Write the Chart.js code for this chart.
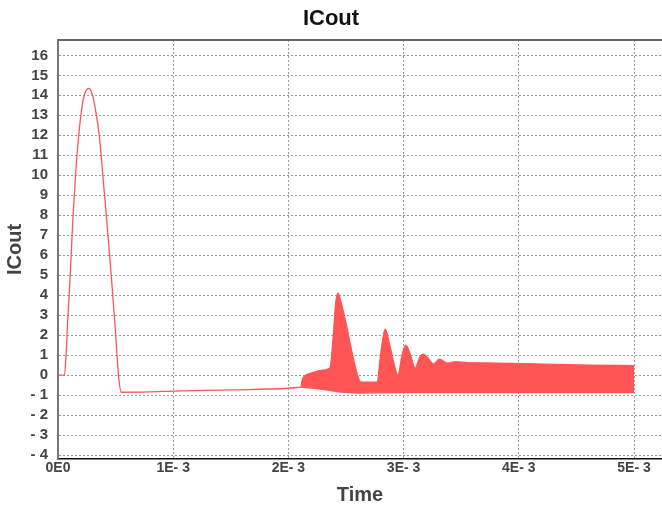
<!DOCTYPE html>
<html>
<head>
<meta charset="utf-8">
<script src="https://cdn.jsdelivr.net/npm/chart.js@4.4.1/dist/chart.umd.min.js"></script>
<style>
  html, body { margin: 0; padding: 0; background: #fff; }
  #wrap { width: 662px; height: 511px; }
</style>
</head>
<body>
<div id="wrap"><canvas id="c"></canvas></div>
<script>
// --- data (time in s, current in A) ---------------------------------------
// single trace: start-up pulse, then the slow negative drift
var traceT = [0, 0.056e-3, 0.07e-3, 0.085e-3, 0.106e-3, 0.13e-3, 0.152e-3,
  0.18e-3, 0.21e-3, 0.24e-3, 0.268e-3, 0.295e-3, 0.325e-3, 0.36e-3, 0.389e-3,
  0.425e-3, 0.462e-3, 0.495e-3, 0.525e-3, 0.55e-3, 0.8e-3, 1.0e-3, 1.5e-3,
  2.0e-3, 2.11e-3];
var traceI = [0, 0, 1.0, 2.8, 5.0, 7.9, 10.0, 12.0, 13.5, 14.2, 14.35, 14.1,
  13.3, 11.9, 10.0, 7.6, 5.0, 2.5, 0, -0.86, -0.84, -0.8, -0.74, -0.66, -0.6];

// switching band: upper and lower envelope of the dense ripple
var upperT = [2.11e-3, 2.12e-3, 2.14e-3, 2.2e-3, 2.3e-3, 2.36e-3, 2.39e-3,
  2.41e-3, 2.43e-3, 2.45e-3, 2.5e-3, 2.55e-3, 2.6e-3, 2.63e-3, 2.77e-3,
  2.8e-3, 2.84e-3, 2.88e-3, 2.92e-3, 2.95e-3, 2.99e-3, 3.02e-3, 3.06e-3,
  3.1e-3, 3.14e-3, 3.17e-3, 3.22e-3, 3.26e-3, 3.31e-3, 3.38e-3, 3.45e-3,
  3.55e-3, 3.8e-3, 4.2e-3, 4.6e-3, 5.0e-3];
var upperI = [-0.6, -0.25, -0.05, 0.1, 0.25, 0.35, 2.0, 3.6, 4.1, 3.8, 2.6,
  1.2, 0.0, -0.35, -0.35, 1.0, 2.3, 1.5, 0.5, 0.0, 1.1, 1.5, 1.0, 0.35, 0.9,
  1.05, 0.8, 0.55, 0.8, 0.6, 0.67, 0.62, 0.6, 0.55, 0.5, 0.47];
var lowerT = [2.11e-3, 2.2e-3, 2.3e-3, 2.45e-3, 2.6e-3, 3.0e-3, 4.0e-3, 5.0e-3];
var lowerI = [-0.6, -0.65, -0.72, -0.85, -0.9, -0.88, -0.88, -0.88];

var xTicks = [0, 1e-3, 2e-3, 3e-3, 4e-3, 5e-3];
var xTickLabels = ["0E0", "1E- 3", "2E- 3", "3E- 3", "4E- 3", "5E- 3"];
var yTicks = [-4, -3, -2, -1, 0, 1, 2, 3, 4, 5, 6, 7, 8, 9, 10, 11, 12, 13, 14, 15, 16];

// --- helpers -----------------------------------------------------------------
function pts(xs, ys) {
  return xs.map(function (x, i) { return { x: x, y: ys[i] }; });
}
var RED = "rgb(255,85,85)";
var INK = "#444";
var FONT = "'Liberation Sans', Arial, sans-serif";

// thin dark frame line along the top of the plot area
var topLine = {
  id: "topLine",
  afterDraw: function (chart) {
    var a = chart.chartArea, ctx = chart.ctx;
    ctx.save();
    ctx.strokeStyle = "#666";
    ctx.lineWidth = 2;
    ctx.beginPath();
    ctx.moveTo(a.left, a.top);
    ctx.lineTo(a.right, a.top);
    ctx.stroke();
    ctx.restore();
  }
};

new Chart(document.getElementById("c"), {
  type: "line",
  data: {
    datasets: [
      { label: "trace", data: pts(traceT, traceI), borderColor: RED,
        borderWidth: 1.3, pointRadius: 0, cubicInterpolationMode: "monotone",
        fill: false },
      { label: "lower", data: pts(lowerT, lowerI), borderColor: RED,
        borderWidth: 1.3, pointRadius: 0, fill: false },
      { label: "upper", data: pts(upperT, upperI), borderColor: RED,
        backgroundColor: RED, borderWidth: 1.3, pointRadius: 0,
        cubicInterpolationMode: "monotone", fill: 1 }
    ]
  },
  options: {
    responsive: true, maintainAspectRatio: false, animation: false,
    layout: { padding: 0 },
    plugins: {
      legend: { display: false },
      tooltip: { enabled: false },
      title: { display: true, text: "ICout", color: "#111",
        font: { family: FONT, size: 22, weight: "bold" },
        padding: { top: 6, bottom: 7.6 } }
    },
    scales: {
      x: {
        type: "linear", min: 0, max: 5.243e-3,
        afterBuildTicks: function (s) {
          s.ticks = xTicks.map(function (v) { return { value: v }; });
        },
        afterFit: function (s) { s.height = 52; },
        ticks: { color: INK, padding: 1, maxRotation: 0, autoSkip: false,
          font: { family: FONT, size: 14, weight: "bold" },
          callback: function (v) {
            var i = xTicks.indexOf(v);
            return i < 0 ? "" : xTickLabels[i];
          } },
        grid: { color: "#999", lineWidth: 1, drawTicks: false },
        border: { color: "#111", width: 1.5, dash: [2, 2], dashOffset: 0 },
        title: { display: true, text: "Time", color: INK,
          font: { family: FONT, size: 20, weight: "bold" },
          padding: { top: 0, bottom: 4 } }
      },
      y: {
        type: "linear", min: -4.2, max: 16.77,
        afterBuildTicks: function (s) {
          s.ticks = yTicks.map(function (v) { return { value: v }; });
        },
        afterFit: function (s) { s.width = 58; },
        ticks: { color: INK, padding: 10, autoSkip: false,
          font: { family: FONT, size: 15, weight: "bold" },
          callback: function (v) { return v < 0 ? "- " + Math.abs(v) : "" + v; } },
        grid: { color: "#999", lineWidth: 1, drawTicks: false },
        border: { color: "#777", width: 2, dash: [2, 2] },
        title: { display: true, text: "ICout", color: INK,
          font: { family: FONT, size: 20, weight: "bold" },
          padding: { top: 3.5, bottom: 0 } }
      }
    }
  },
  plugins: [topLine]
});
</script>
</body>
</html>
